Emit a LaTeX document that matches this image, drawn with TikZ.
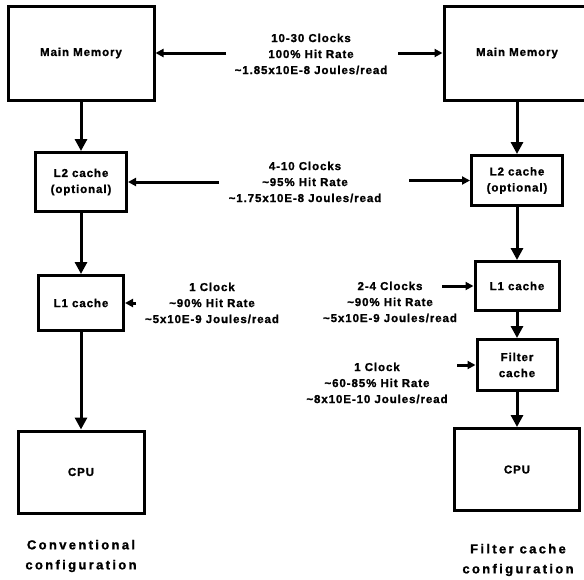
\documentclass[tikz,border=0pt]{standalone}
\usepackage{fontspec}
\setmainfont{Liberation Sans}[LetterSpace=8, BoldFeatures={FakeBold=1.2}]
\usepackage{tikz}
\usetikzlibrary{arrows.meta}

\begin{document}
\begin{tikzpicture}[x=1pt,y=-1pt,
        box/.style = {draw, rectangle, line width=3pt, inner sep=0pt,
            font=\fontsize{11.5}{16}\selectfont\bfseries, align=center},
        info/.style = {font=\fontsize{11.5}{16}\selectfont\bfseries,
            align=center},
        caption/.style = {font=\fontsize{13}{20}\selectfont\bfseries\addfontfeature{LetterSpace=18},
            align=center},
        down/.style = {-{Triangle[length=12pt,width=12pt]}, line width=3pt},
        feed/.style = {-{Triangle[length=8pt,width=8pt]}, line width=3pt}]

        \useasboundingbox (0,0) rectangle (584,579);

        % Conventional configuration
        \node[box, minimum width=146pt, minimum height=94pt] (lmm) at (81,53) {Main Memory};
        \node[box, minimum width=91pt, minimum height=59pt] (ll2) at (81,182) {L2 cache\\(optional)};
        \node[box, minimum width=85pt, minimum height=55pt] (ll1) at (81,303) {L1 cache};
        \node[box, minimum width=126pt, minimum height=82pt] (lcpu) at (81,472) {CPU};
        \node[caption] (lcap) at (81,556) {Conventional\\configuration};

        % Filter cache configuration
        \node[box, minimum width=146pt, minimum height=94pt] (rmm) at (517,53) {Main Memory};
        \node[box, minimum width=91pt, minimum height=50pt] (rl2) at (517,180.5) {L2 cache\\(optional)};
        \node[box, minimum width=84pt, minimum height=49pt] (rl1) at (517,286) {L1 cache};
        \node[box, minimum width=80pt, minimum height=51pt] (rfc) at (517,365) {Filter\\cache};
        \node[box, minimum width=125pt, minimum height=82pt] (rcpu) at (517,469.5) {CPU};
        \node[caption] (rcap) at (518,560) {Filter cache\\configuration};

        % Access figures
        \node[info] (mmtext) at (311,54) {10-30 Clocks\\100\% Hit Rate\\\textasciitilde1.85x10E-8 Joules/read};
        \node[info] (l2text) at (305,182) {4-10 Clocks\\\textasciitilde95\% Hit Rate\\\textasciitilde1.75x10E-8 Joules/read};
        \node[info] (ll1text) at (212,303) {1 Clock\\\textasciitilde90\% Hit Rate\\\textasciitilde5x10E-9 Joules/read};
        \node[info] (rl1text) at (390,302) {2-4 Clocks\\\textasciitilde90\% Hit Rate\\\textasciitilde5x10E-9 Joules/read};
        \node[info] (fctext) at (377,383) {1 Clock\\\textasciitilde60-85\% Hit Rate\\\textasciitilde8x10E-10 Joules/read};

        % Arrow tails
        \coordinate (mmleft) at (226,53);
        \coordinate (mmright) at (398,53);
        \coordinate (l2left) at (219,182);
        \coordinate (l2right) at (409,180.5);
        \coordinate (ll1tail) at (136,303);
        \coordinate (rl1tail) at (442,286);
        \coordinate (fctail) at (457,365);

        % Vertical arrows
        \draw[down] (lmm) -- (ll2);
        \draw[down] (ll2) -- (ll1);
        \draw[down] (ll1) -- (lcpu);
        \draw[down] (rmm) -- (rl2);
        \draw[down] (rl2) -- (rl1);
        \draw[down] (rl1) -- (rfc);
        \draw[down] (rfc) -- (rcpu);

        % Side arrows
        \draw[feed] (mmleft) -- (lmm);
        \draw[feed] (mmright) -- (rmm);
        \draw[feed] (l2left) -- (ll2);
        \draw[feed] (l2right) -- (rl2);
        \draw[feed] (ll1tail) -- (ll1);
        \draw[feed] (rl1tail) -- (rl1);
        \draw[feed] (fctail) -- (rfc);

    \end{tikzpicture}
\end{document}
